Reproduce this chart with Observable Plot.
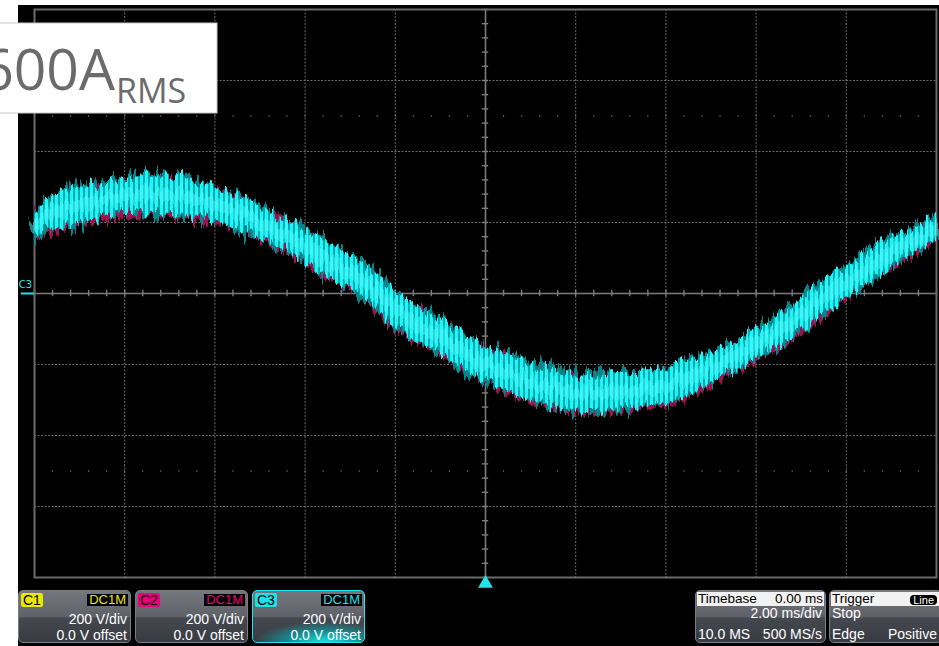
<!DOCTYPE html>
<html>
<head>
<meta charset="utf-8">
<script src="https://cdn.jsdelivr.net/npm/d3@7"></script>
<script src="https://cdn.jsdelivr.net/npm/@observablehq/plot@0.6"></script>
<style>
  body { margin: 0; background: #fff; }
  #wrap { position: relative; width: 939px; height: 646px; overflow: hidden; background: #fff; }
  #scope { position: absolute; left: 18px; top: 5px; width: 921px; height: 641px; background: #000; }
  #chart { position: absolute; left: 0; top: 0; }
  #label { position: absolute; left: 0; top: 0; }
  .box { position: absolute; top: 590px; height: 53px; border-radius: 5px; border: 1px solid #7a7d84;
    box-sizing: border-box; overflow: hidden;
    background: linear-gradient(#74777e 0%, #5e6168 50%, #45484f 53%, #383b42 100%);
    font-family: "Liberation Sans", Arial, sans-serif; font-size: 14px; color: #fff; }
  .box span { position: absolute; line-height: 14px; white-space: nowrap; }
  .tag { left: 2px; top: 2px; padding: 0 2px; border-radius: 2px; color: #000; height: 14px; }
  .dc { right: 2px; top: 3px; padding: 0 2px; background: #000; font-size: 13px; line-height: 12px !important; height: 12px; }
  .r2 { right: 3px; top: 21px; }
  .r3 { right: 3px; top: 37px; }
  .head { position: absolute; left: 1px; right: 1px; top: 1px; height: 14px; background: #f2f2f2; }
  .sel { border: 1.5px solid #22e6ea; }
  .glow { position: absolute; left: 0; right: 0; bottom: 0; height: 20px;
    background: radial-gradient(ellipse 75% 120% at 65% 100%, rgba(20,235,235,0.95) 0%, rgba(0,190,195,0.6) 45%, rgba(0,120,130,0) 85%); }
</style>
</head>
<body>
<div id="wrap">
  <div id="scope"></div>
  <div id="chart"></div>
  <svg id="label" width="939" height="130">
    <rect x="-2" y="23" width="219" height="90" fill="#fff" stroke="#c8c8c8" stroke-width="1"/>
    <text x="115" y="90" text-anchor="end" font-family="Open Sans, sans-serif" font-size="57" fill="#6b6b6b">600A</text>
    <text x="116" y="103" font-family="Open Sans, sans-serif" font-size="34" fill="#6b6b6b">RMS</text>
  </svg>

  <div class="box" style="left:18px;width:113px">
    <span class="tag" style="background:#e8e800">C1</span>
    <span class="dc" style="color:#e8e800">DC1M</span>
    <span class="r2">200 V/div</span>
    <span class="r3">0.0 V offset</span>
  </div>
  <div class="box" style="left:135px;width:113px">
    <span class="tag" style="background:#e8007a">C2</span>
    <span class="dc" style="color:#e8007a">DC1M</span>
    <span class="r2">200 V/div</span>
    <span class="r3">0.0 V offset</span>
  </div>
  <div class="box sel" style="left:252px;width:113px">
    <div class="glow"></div>
    <span class="tag" style="background:#1ee0e6">C3</span>
    <span class="dc" style="color:#1ee0e6">DC1M</span>
    <span class="r2">200 V/div</span>
    <span class="r3">0.0 V offset</span>
  </div>
  <div class="box" style="left:695px;width:131px">
    <div class="head"></div>
    <span style="left:2px;top:1px;color:#000;font-size:13.5px;line-height:13px">Timebase</span>
    <span style="right:2px;top:1px;color:#000;font-size:13.5px;line-height:13px">0.00 ms</span>
    <span style="right:3px;top:16px;line-height:13px">2.00 ms/div</span>
    <span style="left:2px;top:36px">10.0 MS</span>
    <span style="right:3px;top:36px">500 MS/s</span>
  </div>
  <div class="box" style="left:829px;width:113px">
    <div class="head"></div>
    <span style="left:2px;top:1px;color:#000;font-size:13.5px;line-height:13px">Trigger</span>
    <span style="right:4px;top:4px;height:10px;line-height:10px;font-size:11px;background:#000;color:#fff;border-radius:4px;padding:0 3px">Line</span>
    <span style="left:2px;top:16px;line-height:13px">Stop</span>
    <span style="left:2px;top:36px">Edge</span>
    <span style="right:4px;top:36px">Positive</span>
  </div>
</div>
<script>
// time in ms (timebase 2 ms/div, 0.00 ms at centre), volts (200 V/div)
const time  = [-10, -9.5, -8.8, -8, -7.3, -6.6, -6, -5.2, -4.4, -4, -3.4, -2.7, -2, -1.2, -0.5, 0, 0.6, 1.3, 2, 2.8, 3.6, 4, 4.8, 6, 6.7, 7.4, 8, 8.6, 9.3, 10];
// upper edge of the C3 trace band
const upper = [233, 281, 304, 324, 332, 324, 298, 262, 205, 177, 135, 87, 8, -57, -113, -153, -175, -209, -232, -226, -223, -209, -181, -105, -48, 28, 73, 129, 177, 214];
// lower edge of the C3 trace band
const lower = [160, 183, 205, 228, 225, 219, 205, 169, 121, 92, 45, -6, -96, -153, -212, -246, -282, -311, -330, -330, -316, -311, -266, -181, -133, -68, -12, 45, 101, 149];

const channelLabel = ["C3"];
const triggerPos = [0];

const band = time.map((t, i) => ({t, hi: upper[i], lo: lower[i], mid: (upper[i] + lower[i]) / 2}));

const gridColor = "#6c6c6c";
const majorX = d3.range(-8, 8.01, 2).filter(v => v !== 0);
const majorY = d3.range(-600, 600.1, 200).filter(v => v !== 0);
const minorX = d3.range(-10, 10.001, 0.4).map(v => +v.toFixed(2));
const minorY = d3.range(-800, 800.1, 40);
const dotRows = minorX.flatMap(x => [{x, y: 500}, {x, y: -500}]);

const cyan = "#1ee6ea";

const plot = Plot.plot({
  width: 939,
  height: 646,
  marginLeft: 34,
  marginRight: 3,
  marginTop: 9,
  marginBottom: 69,
  x: {domain: [-10, 10], axis: null},
  y: {domain: [-800, 800], axis: null},
  style: {background: "transparent", overflow: "visible"},
  marks: [
    Plot.ruleX(majorX, {stroke: gridColor, strokeDasharray: "2,1.5", strokeWidth: 1}),
    Plot.ruleY(majorY, {stroke: gridColor, strokeDasharray: "2,1.5", strokeWidth: 1}),
    Plot.dot(dotRows, {x: "x", y: "y", r: 0.7, fill: "#777", stroke: null}),
    Plot.ruleX([0], {stroke: "#7c7c7c", strokeWidth: 1.6}),
    Plot.ruleY([0], {stroke: "#7c7c7c", strokeWidth: 1.6}),
    Plot.ruleX(minorX, {y1: -9, y2: 9, stroke: "#7c7c7c", strokeWidth: 1.4}),
    Plot.ruleY(minorY, {x1: -0.07, x2: 0.07, stroke: "#7c7c7c", strokeWidth: 1.4}),
    Plot.frame({stroke: "#6a6a6a", strokeWidth: 2}),
    // C2 (magenta) trace peeking below
    Plot.areaY(band, {x: "t", y1: "lo", y2: "hi", fill: "#a3104f", dy: 3, curve: "catmull-rom"}),
    // C3 trace: dark teal spikes
    Plot.areaY(band, {x: "t", y1: "lo", y2: "hi", fill: "#06868b", curve: "catmull-rom"}),
    // C3 trace: bright striped body
    Plot.areaY(band, {x: "t", y1: "lo", y2: "hi", fill: "url(#stripes)", curve: "catmull-rom"}),
    // bright core
    Plot.line(band, {x: "t", y: "mid", stroke: "#4ffcff", strokeWidth: 12, strokeOpacity: 0.5, curve: "catmull-rom"}),
    Plot.text(channelLabel, {frameAnchor: "left", text: d => d, dx: -9, dy: -9, fill: cyan, fontSize: 10, textAnchor: "middle", fontFamily: "DejaVu Sans"}),
    Plot.ruleY([0], {x1: -10.29, x2: -10.0, stroke: cyan, strokeWidth: 2}),
    Plot.dot(triggerPos, {x: d => d, frameAnchor: "bottom", symbol: "triangle", r: 5.5, fill: cyan, stroke: null, dy: 6})
  ]
});

plot.insertAdjacentHTML("afterbegin", `
<defs>
  <pattern id="stripes" width="5" height="10" patternUnits="userSpaceOnUse">
    <rect width="5" height="10" fill="#00acb0"/>
    <rect width="3" height="10" fill="#22f4f8"/>
  </pattern>
  <filter id="jagA" filterUnits="userSpaceOnUse" x="0" y="0" width="939" height="646" color-interpolation-filters="sRGB">
    <feTurbulence type="fractalNoise" baseFrequency="0.3 0.012" numOctaves="2" seed="2" result="n"/>
    <feColorMatrix in="n" type="matrix" values="0 0 0 0 0.5  1 0 0 0 0  0 0 0 0 0  0 0 0 0 1" result="m"/>
    <feDisplacementMap in="SourceGraphic" in2="m" scale="24" xChannelSelector="R" yChannelSelector="G"/>
  </filter>
  <filter id="jagB" filterUnits="userSpaceOnUse" x="0" y="0" width="939" height="646" color-interpolation-filters="sRGB">
    <feTurbulence type="fractalNoise" baseFrequency="0.28 0.015" numOctaves="2" seed="7" result="n"/>
    <feColorMatrix in="n" type="matrix" values="0 0 0 0 0.5  1 0 0 0 0  0 0 0 0 0  0 0 0 0 1" result="m"/>
    <feDisplacementMap in="SourceGraphic" in2="m" scale="38" xChannelSelector="R" yChannelSelector="G"/>
  </filter>
  <filter id="jagC" filterUnits="userSpaceOnUse" x="0" y="0" width="939" height="646" color-interpolation-filters="sRGB">
    <feTurbulence type="fractalNoise" baseFrequency="0.25 0.02" numOctaves="2" seed="11" result="n"/>
    <feColorMatrix in="n" type="matrix" values="0 0 0 0 0.5  1 0 0 0 0  0 0 0 0 0  0 0 0 0 1" result="m"/>
    <feDisplacementMap in="SourceGraphic" in2="m" scale="24" xChannelSelector="R" yChannelSelector="G"/>
  </filter>
</defs>`);

const areas = plot.querySelectorAll('g[aria-label="area"]');
if (areas[0]) areas[0].setAttribute("filter", "url(#jagA)");
if (areas[1]) areas[1].setAttribute("filter", "url(#jagB)");
if (areas[2]) areas[2].setAttribute("filter", "url(#jagC)");
const lines = plot.querySelectorAll('g[aria-label="line"]');
if (lines[0]) lines[0].setAttribute("filter", "url(#jagC)");

document.getElementById("chart").appendChild(plot);
</script>
</body>
</html>
